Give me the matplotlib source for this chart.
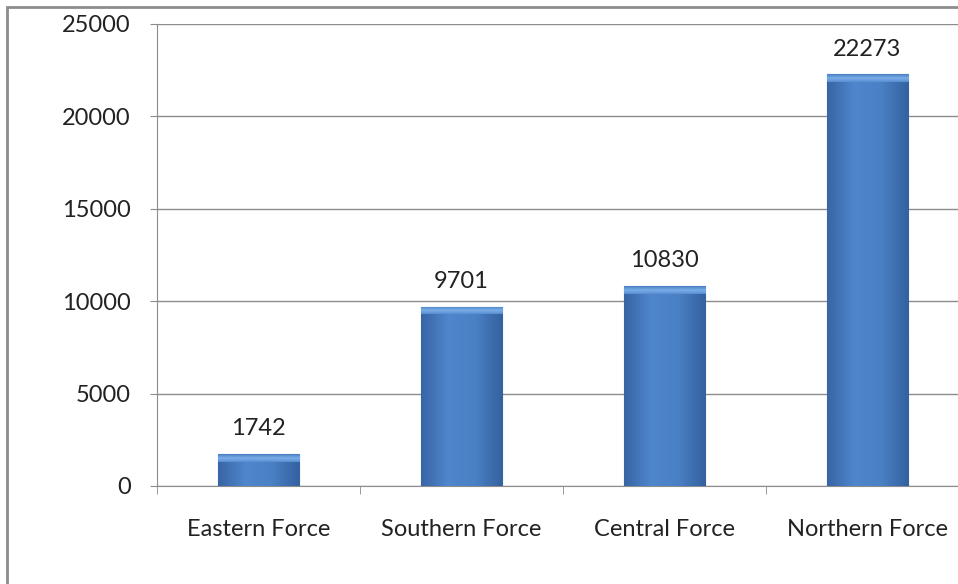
import numpy as np
import matplotlib.pyplot as plt
from matplotlib.patches import Rectangle
from matplotlib.colors import LinearSegmentedColormap

categories = ['Eastern Force', 'Southern Force', 'Central Force', 'Northern Force']
values = [1742, 9701, 10830, 22273]
yticks = [0, 5000, 10000, 15000, 20000, 25000]

plt.rcParams['font.family'] = ['Lato', 'DejaVu Sans']

fig = plt.figure(figsize=(9.58, 5.84), dpi=100)
ax = fig.add_axes([157/958, 98/584, 812/958, 462/584])

# outer chart frame (left and top visible only)
fig.patches.append(Rectangle((7/958, -0.1), 1.2, (577/584) + 0.1, transform=fig.transFigure,
                             fill=False, edgecolor='#8c8c8c', linewidth=2))

x = np.arange(len(categories))
width = 0.4
bars = ax.bar(x, values, width, color='#4a7ebf', edgecolor='#35609a', linewidth=0.8, zorder=2)

# horizontal gradient on each bar
cmap = LinearSegmentedColormap.from_list('b', ['#3865a6', '#4f86cc', '#4a80c4', '#3462a0'])
grad = np.linspace(0, 1, 64).reshape(1, -1)
tcmap = LinearSegmentedColormap.from_list('t', ['#4a80c4', '#7aaee8', '#5a90d4'])
tgrad = np.linspace(0, 1, 16).reshape(-1, 1)
for b in bars:
    x0, w, h = b.get_x(), b.get_width(), b.get_height()
    im = ax.imshow(grad, cmap=cmap, extent=(x0, x0 + w, 0, h), aspect='auto', zorder=3)
    im.set_clip_path(b)
    top = ax.imshow(tgrad, cmap=tcmap, extent=(x0, x0 + w, h - 420, h), aspect='auto', zorder=4)
    top.set_clip_path(b)

for xi, v in zip(x, values):
    ax.annotate(str(v), (xi, v), xytext=(0, 10.5), textcoords='offset points',
                ha='center', va='bottom', fontsize=17, color='#222222')

ax.set_xlim(-0.5, len(categories) - 0.5)
ax.set_ylim(0, 25000)
ax.set_yticks(yticks)
ax.set_yticklabels([str(t) for t in yticks], fontsize=17, color='#222222')
ax.set_xticks(x)
ax.set_xticklabels(categories, fontsize=17, color='#222222')
ax.tick_params(axis='x', length=0, pad=24)
ax.tick_params(axis='y', length=5, color='#8c8c8c', pad=14)
ax.set_xticks(np.arange(-0.5, len(categories) + 0.5), minor=True)
ax.tick_params(axis='x', which='minor', length=6, color='#8c8c8c')

ax.grid(axis='y', color='#8c8c8c', linewidth=1, zorder=0)
ax.set_axisbelow(True)
for s in ['top', 'right']:
    ax.spines[s].set_visible(False)
ax.spines['left'].set_color('#8c8c8c')
ax.spines['bottom'].set_color('#8c8c8c')

fig.savefig('out.png', dpi=100)
